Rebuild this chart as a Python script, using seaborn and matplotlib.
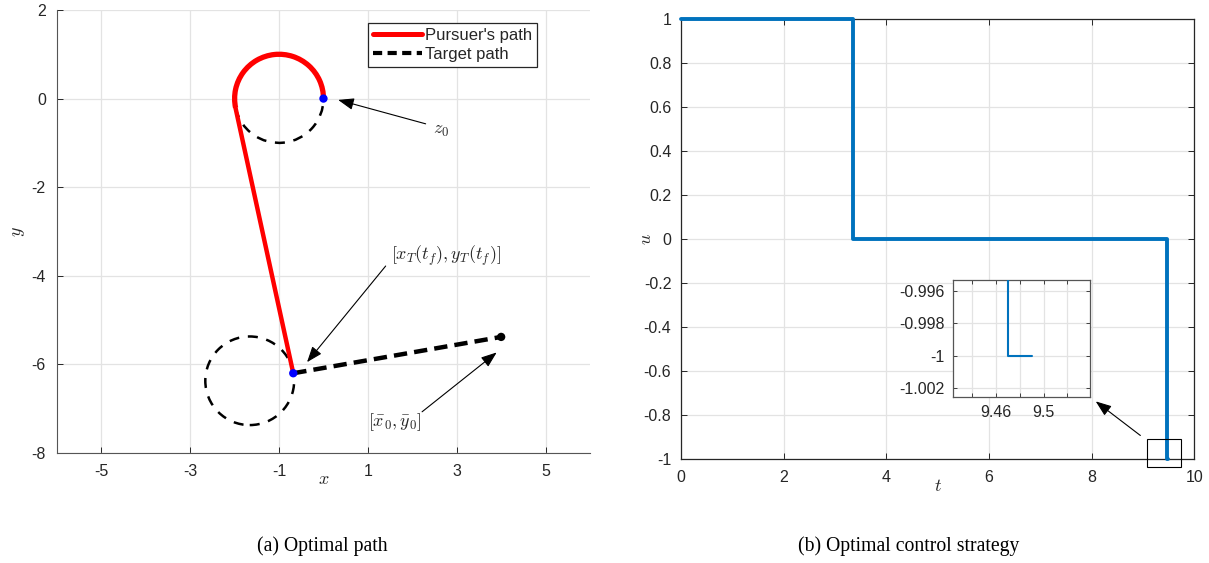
import matplotlib
matplotlib.use("Agg")
import matplotlib.pyplot as plt
import seaborn as sns
from matplotlib.patches import Arc, Circle, Rectangle
from matplotlib.lines import Line2D
from matplotlib.ticker import FuncFormatter

# ---------------- data ----------------
z0 = (0.0, 0.0)
turn_center = (-1.0, 0.0)
turn_radius = 1.0
turn_arc_deg = (0, 192)        # pursuer's turning arc (ccw)
turn_dash_deg = (192, 360)     # rest of the turning circle (dashed)
tangent_pt = (-1.98, -0.21)
capture_pt = (-0.68, -6.2)
target_start = (4.0, -5.38)
target_circle_center = (-1.66, -6.37)
target_circle_radius = 1.0

t_vals = [0.0, 3.36, 9.47, 9.49]
u_vals = [1.0, 0.0, -1.0, -1.0]

xticks_a = [-5, -3, -1, 1, 3, 5]
yticks_a = [-8, -6, -4, -2, 0, 2]
xticks_b = [0, 2, 4, 6, 8, 10]
yticks_b = [-1, -0.8, -0.6, -0.4, -0.2, 0, 0.2, 0.4, 0.6, 0.8, 1]
xticks_in = [9.44, 9.46, 9.48, 9.5, 9.52]
xticklabels_in = ["", "9.46", "", "9.5", ""]
yticks_in = [-1.002, -1.0, -0.998, -0.996]

# ---------------- style ----------------
sns.set_theme(style="whitegrid")
plt.rcParams.update({
    "font.family": ["Liberation Sans", "DejaVu Sans"],
    "mathtext.fontset": "cm",
    "axes.unicode_minus": False,
    "grid.color": "#e3e3e3",
    "grid.linewidth": 0.9,
    "axes.edgecolor": "#262626",
    "xtick.color": "#262626",
    "ytick.color": "#262626",
    "xtick.labelcolor": "#262626",
    "ytick.labelcolor": "#262626",
    "axes.facecolor": "white",
})

fmt = FuncFormatter(lambda v, p: "%g" % v)
TICK_FS = 11.5
BLUE = "#0072BD"

fig = plt.figure(figsize=(12.09, 5.63), dpi=100)

# ---------------- (a) optimal path ----------------
ax = fig.add_axes([0.0471, 0.1954, 0.4409, 0.7869])
ax.set_xlim(-6, 6)
ax.set_ylim(-8, 2)
ax.set_xticks(xticks_a)
ax.set_yticks(yticks_a)
ax.xaxis.set_major_formatter(fmt)
ax.yaxis.set_major_formatter(fmt)
ax.grid(True)
for s in ["top", "right"]:
    ax.spines[s].set_visible(False)
for s in ["left", "bottom"]:
    ax.spines[s].set_linewidth(0.8)
    ax.spines[s].set_color("#555555")
ax.tick_params(direction="in", length=4, width=0.7, labelsize=TICK_FS, pad=8,
               left=True, bottom=True)

# pursuer arc
ax.add_patch(Arc(turn_center, 2 * turn_radius, 2 * turn_radius,
                 theta1=turn_arc_deg[0], theta2=turn_arc_deg[1],
                 color="red", lw=3.8, zorder=3))
# dashed remainder of turning circle
ax.add_patch(Arc(turn_center, 2 * turn_radius, 2 * turn_radius,
                 theta1=turn_dash_deg[0], theta2=turn_dash_deg[1],
                 color="black", lw=1.8, ls=(0, (4, 3.5)), zorder=2))
# target circle
ax.add_patch(Circle(target_circle_center, target_circle_radius, fill=False,
                    edgecolor="black", lw=1.8, ls=(0, (4, 3.5)), zorder=2))
# pursuer straight segment
sns.lineplot(x=[tangent_pt[0], capture_pt[0]], y=[tangent_pt[1], capture_pt[1]],
             sort=False, estimator=None, color="red", lw=3.2, ax=ax, zorder=3)
# target straight path
sns.lineplot(x=[capture_pt[0], target_start[0]], y=[capture_pt[1], target_start[1]],
             sort=False, estimator=None, color="black", lw=3.2,
             dashes=False, ax=ax, zorder=3)
ax.lines[-1].set_linestyle((0, (3, 1.6)))
# points
sns.scatterplot(x=[z0[0], capture_pt[0]], y=[z0[1], capture_pt[1]], color="blue",
                s=36, edgecolor="none", ax=ax, zorder=5)
sns.scatterplot(x=[target_start[0]], y=[target_start[1]], color="black",
                s=36, edgecolor="none", ax=ax, zorder=5)

arrow = dict(arrowstyle="-|>,head_length=0.8,head_width=0.3", color="black", lw=0.8,
             shrinkA=0, shrinkB=0)
ax.annotate("", xy=(0.33, -0.03), xytext=(2.3, -0.57), arrowprops=arrow)
ax.text(2.65, -0.72, r"$z_0$", fontsize=13, ha="center", va="center")
ax.annotate("", xy=(-0.37, -5.95), xytext=(1.4, -3.78), arrowprops=arrow)
ax.text(2.75, -3.55, r"$[x_T(t_f),y_T(t_f)]$", fontsize=13, ha="center", va="center")
ax.annotate("", xy=(3.9, -5.73), xytext=(2.22, -7.07), arrowprops=arrow)
ax.text(1.6, -7.3, r"$[\bar{x}_0,\bar{y}_0]$", fontsize=13, ha="center", va="center")

ax.set_xlabel(r"$x$", fontsize=13, labelpad=-6)
ax.set_ylabel(r"$y$", fontsize=13, labelpad=3)

handles = [Line2D([], [], color="red", lw=3.6),
           Line2D([], [], color="black", lw=3.0, ls=(0, (2.2, 1.3)))]
leg = ax.legend(handles, ["Pursuer's path", "Target path"], loc="upper right",
                bbox_to_anchor=(0.9006, 0.9707), fontsize=12, frameon=True,
                fancybox=False, edgecolor="#262626", framealpha=1,
                borderpad=0.3, handlelength=2.9, handletextpad=0.2,
                labelspacing=0.25, borderaxespad=0)
leg.get_frame().set_linewidth(0.9)

fig.text(0.267, 0.03, "(a) Optimal path", fontsize=14.2,
         family="Liberation Serif", ha="center", va="center", color="black")

# ---------------- (b) optimal control ----------------
bx = fig.add_axes([0.5633, 0.1847, 0.4245, 0.7815])
sns.lineplot(x=t_vals, y=u_vals, estimator=None, sort=False, color=BLUE, lw=2.8,
             drawstyle="steps-post", ax=bx, zorder=3, clip_on=False)
bx.set_xlim(0, 10)
bx.set_ylim(-1, 1)
bx.set_xticks(xticks_b)
bx.set_yticks(yticks_b)
bx.xaxis.set_major_formatter(fmt)
bx.yaxis.set_major_formatter(fmt)
bx.grid(True)
for s in bx.spines.values():
    s.set_linewidth(0.9)
    s.set_color("#262626")
bx.tick_params(direction="in", length=4, width=0.7, labelsize=TICK_FS,
               top=True, right=True, left=True, bottom=True)
bx.tick_params(axis="y", pad=7)
bx.tick_params(axis="x", pad=8)
bx.set_xlabel(r"$t$", fontsize=13, labelpad=-5)
bx.set_ylabel(r"$u$", fontsize=13, labelpad=-8)

bx.add_patch(Rectangle((9.08, -1.036), 0.66, 0.127, fill=False, edgecolor="black",
                       lw=0.8, clip_on=False, zorder=4))
bx.annotate("", xy=(8.08, -0.738), xytext=(8.95, -0.893), arrowprops=arrow)

fig.text(0.752, 0.03, "(b) Optimal control strategy", fontsize=14.2,
         family="Liberation Serif", ha="center", va="center", color="black")

# inset
ix = fig.add_axes([0.7883, 0.2948, 0.1133, 0.2078])
sns.lineplot(x=t_vals, y=u_vals, estimator=None, sort=False, color=BLUE, lw=1.5,
             drawstyle="steps-post", ax=ix, zorder=3)
ix.set_xlim(9.424, 9.539)
ix.set_ylim(-1.00253, -0.99535)
ix.set_xticks(xticks_in)
ix.set_xticklabels(xticklabels_in)
ix.set_yticks(yticks_in)
ix.yaxis.set_major_formatter(fmt)
ix.grid(True)
for s in ix.spines.values():
    s.set_linewidth(0.9)
    s.set_color("#555555")
ix.tick_params(direction="in", length=3, width=0.6, labelsize=TICK_FS,
               top=True, right=True, left=True, bottom=True, pad=6)

fig.savefig("out.png", dpi=100)
